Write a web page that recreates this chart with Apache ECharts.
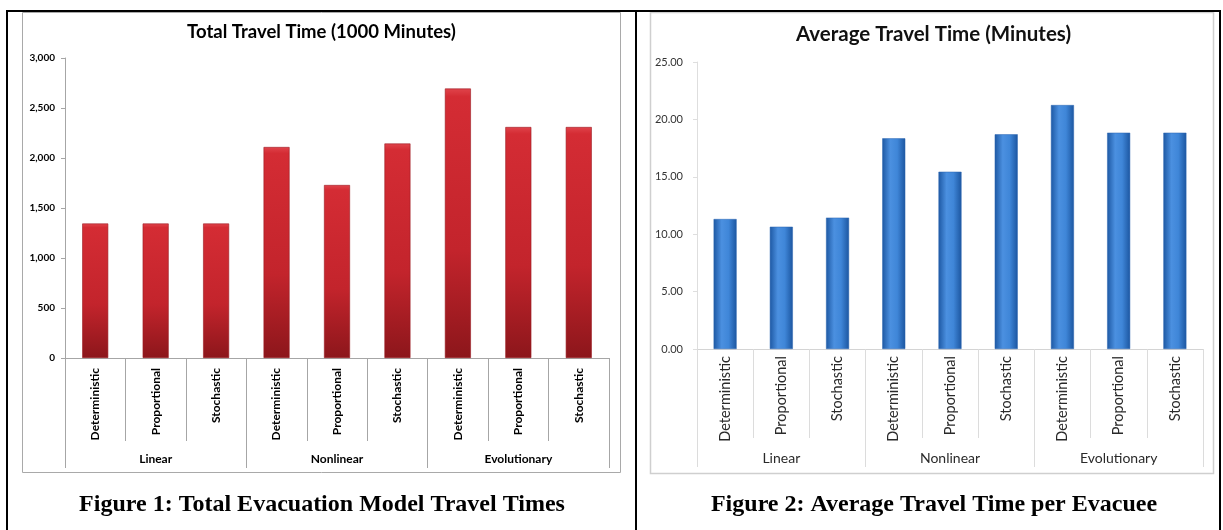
<!DOCTYPE html>
<html>
<head>
<meta charset="utf-8">
<script src="https://cdn.jsdelivr.net/npm/echarts@6/dist/echarts.min.js"></script>
<style>
  html, body { margin: 0; padding: 0; background: #ffffff; }
  #c { width: 1223px; height: 530px; }
</style>
</head>
<body>
<div id="c"></div>
<script>
// Routing method per model family (lower axis level) and model family (upper level)
const methods = ['Deterministic', 'Proportional', 'Stochastic',
                 'Deterministic', 'Proportional', 'Stochastic',
                 'Deterministic', 'Proportional', 'Stochastic'];
const models = ['Linear', 'Nonlinear', 'Evolutionary'];

// Total travel time, thousands of minutes
const totalTravel = [1345, 1345, 1345, 2110, 1730, 2145, 2695, 2310, 2310];
// Average travel time per evacuee, minutes
const avgTravel = [11.32, 10.65, 11.44, 18.35, 15.44, 18.70, 21.25, 18.84, 18.84];

// Value-axis ticks
const totalTicks = [0, 500, 1000, 1500, 2000, 2500, 3000];
const avgTicks = [0, 5, 10, 15, 20, 25];

const FONT = 'Lato';
const chart = echarts.init(document.getElementById('c'), null, { renderer: 'canvas' });

const redBar = new echarts.graphic.LinearGradient(0, 0, 0, 1, [
  { offset: 0, color: '#e0444b' },
  { offset: 0.03, color: '#d42c34' },
  { offset: 0.6, color: '#c3242c' },
  { offset: 1, color: '#8c161b' }
]);
const blueBar = new echarts.graphic.LinearGradient(0, 0, 1, 0, [
  { offset: 0, color: '#1d58a3' },
  { offset: 0.35, color: '#4b90e0' },
  { offset: 0.65, color: '#3f86d8' },
  { offset: 1, color: '#1c56a0' }
]);

function valueAxis(grid, ticks, fmt, labelStyle, lineColor) {
  return {
    type: 'value', gridIndex: grid,
    min: ticks[0], max: ticks[ticks.length - 1], interval: ticks[1] - ticks[0],
    axisLine: { show: true, lineStyle: { color: lineColor, width: 1 } },
    axisTick: { show: true, length: 4, lineStyle: { color: lineColor } },
    splitLine: { show: false },
    axisLabel: Object.assign({ formatter: fmt, fontFamily: FONT }, labelStyle)
  };
}

chart.setOption({
  animation: false,
  grid: [
    { left: 65, right: 614, top: 58, bottom: 172 },
    { left: 697, right: 20, top: 62, bottom: 181 }
  ],
  xAxis: [
    {
      type: 'category', gridIndex: 0, data: methods,
      axisLine: { lineStyle: { color: '#a6a6a6' } },
      axisTick: { show: true, length: 83, interval: 0, lineStyle: { color: '#a6a6a6' } },
      axisLabel: { rotate: 90, interval: 0, margin: 10, fontFamily: FONT, fontWeight: 'bold',
                   fontSize: 12, color: '#000' }
    },
    {
      type: 'category', gridIndex: 0, data: models, position: 'bottom',
      axisLine: { show: false },
      axisTick: { show: true, length: 110, interval: 0, lineStyle: { color: '#a6a6a6' } },
      axisLabel: { interval: 0, margin: 95, fontFamily: FONT, fontWeight: 'bold',
                   fontSize: 12, color: '#000' }
    },
    {
      type: 'category', gridIndex: 1, data: methods,
      axisLine: { lineStyle: { color: '#d4d4d4' } },
      axisTick: { show: true, length: 89, interval: 0, lineStyle: { color: '#dcdcdc' } },
      axisLabel: { rotate: 90, interval: 0, margin: 7, fontFamily: FONT,
                   fontSize: 14.5, color: '#2a2a2a' }
    },
    {
      type: 'category', gridIndex: 1, data: models, position: 'bottom',
      axisLine: { show: false },
      axisTick: { show: true, length: 118, interval: 0, lineStyle: { color: '#dcdcdc' } },
      axisLabel: { interval: 0, margin: 102, fontFamily: FONT,
                   fontSize: 14, color: '#2a2a2a' }
    }
  ],
  yAxis: [
    valueAxis(0, totalTicks, v => v.toLocaleString('en-US'),
              { margin: 10, fontSize: 10, fontWeight: 'bold', color: '#000' }, '#a6a6a6'),
    valueAxis(1, avgTicks, v => v.toFixed(2),
              { margin: 14, fontSize: 11, color: '#333' }, '#dedede')
  ],
  series: [
    {
      type: 'bar', xAxisIndex: 0, yAxisIndex: 0, data: totalTravel, barWidth: 26,
      itemStyle: { color: redBar, borderColor: '#9a1b21', borderWidth: 0.6 }
    },
    {
      type: 'bar', xAxisIndex: 2, yAxisIndex: 1, data: avgTravel, barWidth: 23,
      itemStyle: { color: blueBar, borderColor: '#2a64b0', borderWidth: 0.5 }
    }
  ],
  graphic: [
    // chart frames
    { type: 'rect', shape: { x: 22.5, y: 12.5, width: 598, height: 460 },
      style: { fill: null, stroke: '#a9a9a9', lineWidth: 1 }, silent: true },
    { type: 'rect', shape: { x: 650.5, y: 12.5, width: 563, height: 461 },
      style: { fill: null, stroke: '#cfcfcf', lineWidth: 1.5 }, silent: true },
    // table rules
    { type: 'rect', shape: { x: 6, y: 10, width: 1215, height: 2 }, style: { fill: '#000' }, silent: true },
    { type: 'rect', shape: { x: 6, y: 10, width: 2, height: 520 }, style: { fill: '#000' }, silent: true },
    { type: 'rect', shape: { x: 635, y: 10, width: 2, height: 520 }, style: { fill: '#000' }, silent: true },
    { type: 'rect', shape: { x: 1219, y: 10, width: 2, height: 520 }, style: { fill: '#000' }, silent: true },
    // chart titles
    { type: 'text', x: 321.5, y: 32,
      style: { text: 'Total Travel Time (1000 Minutes)', fill: '#000', align: 'center',
               verticalAlign: 'middle', font: 'bold 18.5px Lato' } },
    { type: 'text', x: 933.5, y: 34,
      style: { text: 'Average Travel Time (Minutes)', fill: '#111', align: 'center',
               verticalAlign: 'middle', font: 'bold 20.5px Lato' } },
    // figure captions
    { type: 'text', x: 322, y: 505,
      style: { text: 'Figure 1: Total Evacuation Model Travel Times', fill: '#000', align: 'center',
               verticalAlign: 'middle', font: 'bold 24px "Liberation Serif"' } },
    { type: 'text', x: 934, y: 505,
      style: { text: 'Figure 2: Average Travel Time per Evacuee', fill: '#000', align: 'center',
               verticalAlign: 'middle', font: 'bold 24px "Liberation Serif"' } }
  ]
});
</script>
</body>
</html>
